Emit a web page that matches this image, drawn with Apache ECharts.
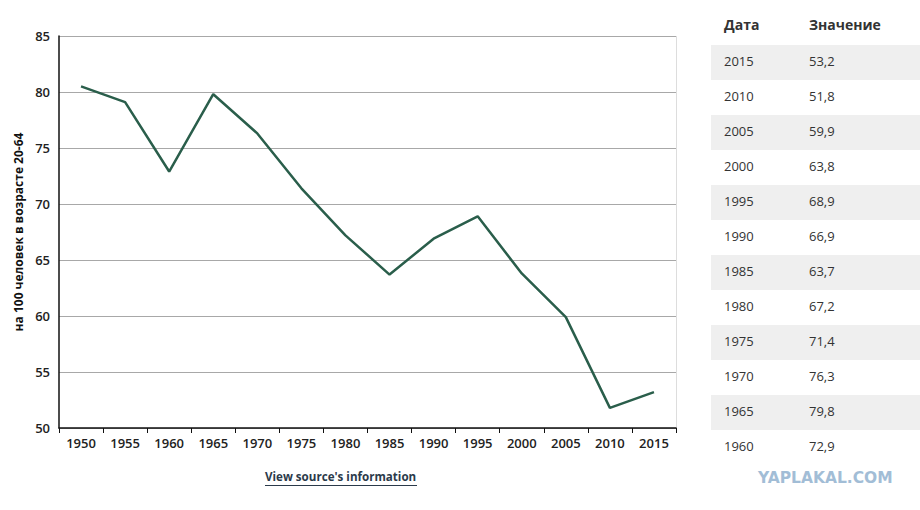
<!DOCTYPE html>
<html>
<head>
<meta charset="utf-8">
<script src="https://cdn.jsdelivr.net/npm/echarts@6/dist/echarts.min.js"></script>
<title>chart</title>
<style>
  html, body { margin: 0; padding: 0; background: #fff; }
</style>
</head>
<body>
<div id="main" style="width:920px;height:510px;"></div>
<script type="text/javascript">
// данные
var years = ['1950','1955','1960','1965','1970','1975','1980','1985','1990','1995','2000','2005','2010','2015'];
var values = [80.5, 79.1, 72.9, 79.8, 76.3, 71.4, 67.2, 63.7, 66.9, 68.9, 63.8, 59.9, 51.8, 53.2];
var tableYears = ['2015','2010','2005','2000','1995','1990','1985','1980','1975','1970','1965','1960'];
var tableValues = ['53,2','51,8','59,9','63,8','68,9','66,9','63,7','67,2','71,4','76,3','79,8','72,9'];
var yName = 'на 100 человек в возрасте 20-64';

var myChart = echarts.init(document.getElementById('main'), null, {renderer: 'svg'});

// таблица справа
var graphics = [];
graphics.push({ type: 'text', left: 724, top: 17, style: { text: 'Дата', font: 'bold 14px "Open Sans"', fill: '#333' } });
graphics.push({ type: 'text', left: 809, top: 17, style: { text: 'Значение', font: 'bold 14px "Open Sans"', fill: '#333' } });
for (var i = 0; i < tableYears.length; i++) {
  var rowTop = 45 + 35 * i;
  if (i % 2 == 0) {
    graphics.push({ type: 'rect', shape: { x: 711, y: rowTop, width: 209, height: 35 }, style: { fill: '#efefef' }, z: 0 });
  }
  graphics.push({ type: 'text', left: 724, top: rowTop + 9, style: { text: tableYears[i], font: '13px "Open Sans"', fill: '#333' }, z: 1 });
  graphics.push({ type: 'text', left: 809, top: rowTop + 9, style: { text: tableValues[i], font: '13px "Open Sans"', fill: '#333' }, z: 1 });
}
graphics.push({ type: 'text', left: 265, top: 470, style: { text: "View source's information", font: 'bold 11.6px "Open Sans"', fill: '#2b3a4a' } });
graphics.push({ type: 'rect', shape: { x: 265, y: 485, width: 152, height: 1 }, style: { fill: '#2b3a4a' } });
graphics.push({ type: 'text', left: 758, top: 470, style: { text: 'YAPLAKAL.COM', font: 'bold 15.5px "DejaVu Sans"', fill: '#a2bdd6' } });
graphics.push({ type: 'line', shape: { x1: 676.5, y1: 36, x2: 676.5, y2: 428 }, style: { stroke: '#dddddd', lineWidth: 1 } });

var option = {
  animation: false,
  grid: { left: 59, right: 244, top: 36, bottom: 82 },
  xAxis: {
    type: 'category',
    data: years,
    boundaryGap: true,
    axisLine: { lineStyle: { color: '#111', width: 1.5 } },
    axisTick: { show: true, length: 5, lineStyle: { color: '#111' } },
    axisLabel: { color: '#222', fontSize: 13, fontWeight: 600, fontFamily: 'Open Sans', margin: 8 }
  },
  yAxis: {
    type: 'value',
    min: 50,
    max: 85,
    interval: 5,
    name: yName,
    nameLocation: 'middle',
    nameGap: 34,
    nameTextStyle: { color: '#111', fontSize: 12, fontWeight: 'bold', fontFamily: 'Open Sans' },
    axisLine: { show: true, lineStyle: { color: '#111', width: 1.5 } },
    axisTick: { show: false },
    splitLine: { lineStyle: { color: '#a8a8a8', width: 1 } },
    axisLabel: { color: '#222', fontSize: 13, fontWeight: 600, fontFamily: 'Open Sans', margin: 9 }
  },
  series: [{
    type: 'line',
    data: values,
    symbol: 'none',
    lineStyle: { color: '#2a5e4b', width: 2.5 }
  }],
  graphic: graphics
};
myChart.setOption(option);
</script>
</body>
</html>
